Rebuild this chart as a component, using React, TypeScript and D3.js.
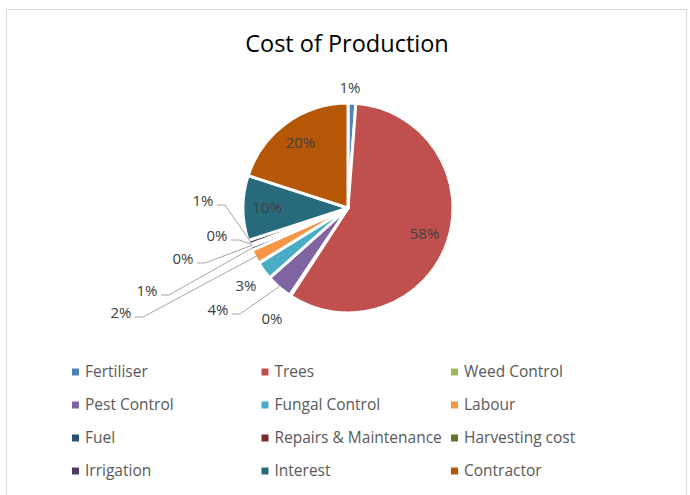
import { useMemo } from "react";
import * as d3 from "d3";

const categories = [
  "Fertiliser",
  "Trees",
  "Weed Control",
  "Pest Control",
  "Fungal Control",
  "Labour",
  "Fuel",
  "Repairs & Maintenance",
  "Harvesting cost",
  "Irrigation",
  "Interest",
  "Contractor",
];
const shares = [1.2, 58.0, 0.2, 4.0, 2.8, 2.2, 0.6, 0.2, 0.1, 0.7, 10.0, 20.0];
const colors = [
  "#4F81BD", "#C0504D", "#9BBB59", "#8064A2", "#4BACC6", "#F79646",
  "#2C4D75", "#772C2A", "#5F7530", "#4D3B62", "#276A7C", "#B65708",
];

// label placement, relative to pie centre ("inside" = on the slice)
const labelSpots: Record<string, { dx?: number; dy?: number; inside?: boolean; leader?: boolean }> = {
  Fertiliser: { dx: 2, dy: -120 },
  Trees: { inside: true },
  "Weed Control": { dx: -76, dy: 111 },
  "Pest Control": { dx: -130, dy: 102, leader: true },
  "Fungal Control": { dx: -102, dy: 78 },
  Labour: { dx: -227, dy: 105, leader: true },
  Fuel: { dx: -201, dy: 83, leader: true },
  "Repairs & Maintenance": { dx: -165, dy: 51, leader: true },
  "Harvesting cost": { dx: -131, dy: 28, leader: true },
  Irrigation: { dx: -145, dy: -7, leader: true },
  Interest: { inside: true },
  Contractor: { inside: true },
};

const W = 690;
const H = 495;
const cx = 348;
const cy = 208;
const R = 105;
const FONT = "'Open Sans', 'Noto Sans', sans-serif";

export default function App() {
  const slices = useMemo(() => {
    const pie = d3.pie<number>().sort(null).value((d) => d)(shares);
    return pie.map((p, i) => ({ ...p, name: categories[i], color: colors[i] }));
  }, []);

  const arc = d3.arc<d3.PieArcDatum<number>>().innerRadius(0).outerRadius(R);
  const total = d3.sum(shares);

  return (
    <svg width={W} height={H} style={{ position: "absolute", left: 0, top: 0, background: "#fff" }}>
      <path d={`M6.5,${H} V9.5 H686.5 V${H}`} fill="none" stroke="#d9d9d9" strokeWidth={1} />
      <text x={347} y={52} textAnchor="middle" fontFamily={FONT} fontSize={23.5} fill="#000">
        Cost of Production
      </text>

      <g transform={`translate(${cx},${cy})`}>
        {slices.map((s) => (
          <path key={s.name} d={arc(s) || ""} fill={s.color} stroke="#fff" strokeWidth={3} strokeLinejoin="round" />
        ))}
        {slices.map((s) => {
          const spot = labelSpots[s.name];
          const pct = `${Math.round((s.value / total) * 100)}%`;
          const mid = (s.startAngle + s.endAngle) / 2;
          if (spot.inside) {
            const rr = R * 0.77;
            return (
              <text key={s.name} x={Math.sin(mid) * rr} y={-Math.cos(mid) * rr} dy="0.35em"
                textAnchor="middle" fontFamily={FONT} fontSize={15} fill="#404040">
                {pct}
              </text>
            );
          }
          const lx = spot.dx!;
          const ly = spot.dy!;
          let leader = null;
          if (spot.leader) {
            const ex = Math.sin(mid) * (R - 2);
            const ey = -Math.cos(mid) * (R - 2);
            const x0 = lx + 14;
            leader = (
              <polyline points={`${x0},${ly + 4} ${x0 + 8},${ly + 4} ${ex},${ey}`}
                fill="none" stroke="#a6a6a6" strokeWidth={1} />
            );
          }
          return (
            <g key={s.name}>
              {leader}
              <text x={lx} y={ly} dy="0.35em" textAnchor="middle" fontFamily={FONT} fontSize={15} fill="#404040">
                {pct}
              </text>
            </g>
          );
        })}
      </g>

      <g fontFamily={FONT} fontSize={15.5} fill="#595959">
        {categories.map((c, i) => {
          const col = i % 3;
          const row = Math.floor(i / 3);
          const x = 72 + col * 189.5;
          const y = 372 + row * 33;
          return (
            <g key={c} transform={`translate(${x},${y})`}>
              <rect x={0} y={-3.5} width={7} height={7} fill={colors[i]} />
              <text x={13} y={0} dy="0.35em">{c}</text>
            </g>
          );
        })}
      </g>
    </svg>
  );
}
